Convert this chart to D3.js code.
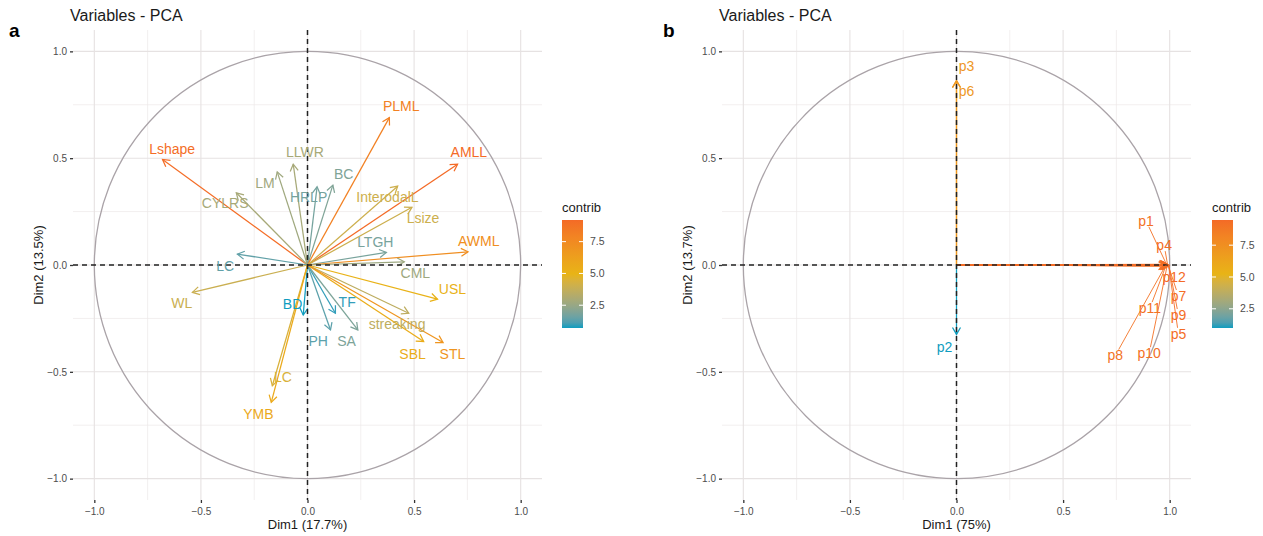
<!DOCTYPE html>
<html>
<head>
<meta charset="utf-8">
<script src="https://cdn.jsdelivr.net/npm/d3@7"></script>
<style>
  body { margin: 0; background: #fff; }
  svg { display: block; font-family: "Liberation Sans", Arial, sans-serif; }
</style>
</head>
<body>
<svg id="chart" width="1263" height="536"></svg>
<script>
// ---------- Panel a data ----------
const varsA = ["Lshape","CYLRS","LM","LLWR","HRLP","BC","LC","PLML","AMLL","InterodalL","Lsize","LTGH","AWML","CML","WL","USL","BD","TF","PH","SA","streaking","SBL","STL","LC","YMB"];
const dim1A = [-0.68,-0.334,-0.142,-0.067,0.045,0.119,-0.329,0.384,0.704,0.423,0.49,0.37,0.753,0.454,-0.54,0.61,-0.02,0.131,0.108,0.236,0.475,0.545,0.636,-0.165,-0.17];
const dim2A = [0.494,0.338,0.436,0.472,0.366,0.374,0.051,0.69,0.472,0.369,0.27,0.059,0.062,0.015,-0.128,-0.16,-0.234,-0.226,-0.304,-0.304,-0.226,-0.358,-0.363,-0.565,-0.643];
const contribA = [9.05,2.90,2.70,2.90,1.74,1.97,1.42,7.99,9.20,4.04,4.01,1.80,7.30,2.64,3.95,5.10,0.71,0.88,1.33,1.90,3.55,5.45,6.88,4.44,5.67];
const labXA = [-0.635,-0.386,-0.2,-0.012,0.005,0.17,-0.386,0.44,0.757,0.375,0.542,0.318,0.803,0.506,-0.59,0.68,-0.07,0.186,0.05,0.183,0.42,0.493,0.68,-0.115,-0.23];
const labYA = [0.542,0.29,0.383,0.527,0.318,0.425,-0.005,0.745,0.527,0.32,0.218,0.109,0.111,-0.04,-0.18,-0.113,-0.183,-0.174,-0.355,-0.355,-0.276,-0.417,-0.417,-0.523,-0.7];

// ---------- Panel b data ----------
const varsB = ["p1","p2","p3","p4","p5","p6","p7","p8","p9","p10","p11","p12"];
const dim1B = [0.985,0,0,0.99,0.995,0,0.993,0.98,0.996,0.988,0.983,0.997];
const dim2B = [0.003,-0.325,0.864,0.002,-0.003,0.862,-0.002,-0.004,-0.003,-0.004,-0.002,-0.001];
const contribB = [9.13,0.99,7.01,9.22,9.32,6.98,9.27,9.05,9.33,9.18,9.09,9.48];
const labXB = [0.889,-0.056,0.047,0.974,1.041,0.047,1.041,0.745,1.041,0.904,0.907,1.021];
const labYB = [0.207,-0.382,0.93,0.093,-0.322,0.813,-0.145,-0.424,-0.234,-0.413,-0.202,-0.057];

// ---------- axis / legend labels ----------
const axisBreaks = [-1.0,-0.5,0.0,0.5,1.0];
const minorBreaks = [-0.75,-0.25,0.25,0.75];
const legendBreaks = [2.5,5.0,7.5];
const gradientColors = ["#0f9dbf","#e8b416","#f46a26"];

const svg = d3.select("#chart");
const fmt = d3.format(".1f");

function drawPanel(cfg) {
  const g = svg.append("g");
  const x = d3.scaleLinear().domain([-1.1,1.1]).range([cfg.left, cfg.left + 469]);
  const y = d3.scaleLinear().domain([-1.1,1.1]).range([500, 30]);
  const cmin = d3.min(cfg.contrib), cmax = d3.max(cfg.contrib);
  const col = d3.scaleLinear().domain([cmin,(cmin+cmax)/2,cmax]).range(gradientColors).interpolate(d3.interpolateLab);

  // grid
  const grid = g.append("g");
  minorBreaks.forEach(v => {
    grid.append("line").attr("x1", x(v)).attr("x2", x(v)).attr("y1", 30).attr("y2", 500)
      .attr("stroke", "#ece8e8").attr("stroke-width", 0.7);
    grid.append("line").attr("y1", y(v)).attr("y2", y(v)).attr("x1", x.range()[0]).attr("x2", x.range()[1])
      .attr("stroke", "#ece8e8").attr("stroke-width", 0.7);
  });
  axisBreaks.forEach(v => {
    grid.append("line").attr("x1", x(v)).attr("x2", x(v)).attr("y1", 30).attr("y2", 500)
      .attr("stroke", "#e6e2e2").attr("stroke-width", 1.1);
    grid.append("line").attr("y1", y(v)).attr("y2", y(v)).attr("x1", x.range()[0]).attr("x2", x.range()[1])
      .attr("stroke", "#e6e2e2").attr("stroke-width", 1.1);
  });

  // axes with ticks
  const xAxis = d3.axisBottom(x).tickValues(axisBreaks).tickFormat(fmt).tickSize(3).tickPadding(5);
  const yAxis = d3.axisLeft(y).tickValues(axisBreaks).tickFormat(fmt).tickSize(3).tickPadding(3);
  const gx = g.append("g").attr("transform", `translate(0,500)`).call(xAxis);
  const gy = g.append("g").attr("transform", `translate(${x.range()[0]},0)`).call(yAxis);
  [gx, gy].forEach(a => {
    a.select(".domain").remove();
    a.selectAll(".tick line").attr("stroke", "#333").attr("stroke-width", 1.3);
    a.selectAll(".tick text").attr("fill", "#4d4d4d").style("font-size", "10px").style("font-family", "Liberation Sans, Arial, sans-serif");
  });

  // circle
  g.append("ellipse").attr("cx", x(0)).attr("cy", y(0))
    .attr("rx", x(1) - x(0)).attr("ry", y(0) - y(1))
    .attr("fill", "none").attr("stroke", "#aaa3a8").attr("stroke-width", 1.3);

  // arrows
  const ag = g.append("g");
  cfg.names.forEach((n, i) => {
    const x0 = x(0), y0 = y(0), tx = x(cfg.d1[i]), ty = y(cfg.d2[i]);
    const c = col(cfg.contrib[i]);
    const ang = Math.atan2(ty - y0, tx - x0);
    const L = 8, A = Math.PI / 6;
    ag.append("line").attr("x1", x0).attr("y1", y0).attr("x2", tx).attr("y2", ty)
      .attr("stroke", c).attr("stroke-width", 1.25);
    ag.append("path")
      .attr("d", `M${tx - L*Math.cos(ang - A)},${ty - L*Math.sin(ang - A)}L${tx},${ty}L${tx - L*Math.cos(ang + A)},${ty - L*Math.sin(ang + A)}`)
      .attr("fill", "none").attr("stroke", c).attr("stroke-width", 1.25);
  });

  // dashed axes lines
  g.append("line").attr("x1", x.range()[0]).attr("x2", x.range()[1]).attr("y1", y(0)).attr("y2", y(0))
    .attr("stroke", "#222").attr("stroke-width", 1.5).attr("stroke-dasharray", "5,4");
  g.append("line").attr("x1", x(0)).attr("x2", x(0)).attr("y1", 30).attr("y2", 500)
    .attr("stroke", "#222").attr("stroke-width", 1.5).attr("stroke-dasharray", "5,4");

  // labels (+ repel segments)
  const lg = g.append("g");
  cfg.names.forEach((n, i) => {
    const c = col(cfg.contrib[i]);
    const cx = x(cfg.lx[i]), cy = y(cfg.ly[i]);
    const t = lg.append("text").attr("x", cx).attr("y", cy).attr("dy", "0.35em")
      .attr("text-anchor", "middle").attr("fill", c).style("font-size", "14px").text(n);
    const w = t.node().getComputedTextLength();
    const tx = x(cfg.d1[i]), ty = y(cfg.d2[i]);
    const dx = tx - cx, dy = ty - cy;
    const hw = w / 2 + 1, hh = 6;
    const s = Math.min(dx === 0 ? Infinity : hw / Math.abs(dx), dy === 0 ? Infinity : hh / Math.abs(dy));
    const dist = Math.hypot(dx, dy);
    if (s < 1 && (1 - s) * dist > 12) {
      lg.append("line").attr("x1", cx + s*dx).attr("y1", cy + s*dy).attr("x2", tx).attr("y2", ty)
        .attr("stroke", c).attr("stroke-width", 0.9);
    }
  });

  // titles
  g.append("text").attr("x", cfg.left - 3).attr("y", 21).attr("fill", "#1a1a1a")
    .style("font-size", "16px").text("Variables - PCA");
  g.append("text").attr("x", cfg.tagX).attr("y", 37).attr("fill", "#000")
    .style("font-size", "19px").style("font-weight", "bold").text(cfg.tag);
  g.append("text").attr("x", x(0)).attr("y", 529).attr("text-anchor", "middle").attr("fill", "#1a1a1a")
    .style("font-size", "13px").text(cfg.xlab);
  g.append("text").attr("transform", `translate(${cfg.left - 30},${y(0)}) rotate(-90)`)
    .attr("text-anchor", "middle").attr("fill", "#1a1a1a").style("font-size", "13px").text(cfg.ylab);

  // legend
  const lx = cfg.legX, top = 220, bot = 328, bw = 21;
  const ls = d3.scaleLinear().domain([cmin, cmax]).range([bot, top]);
  const gid = "grad" + cfg.tag;
  const grad = svg.append("defs").append("linearGradient").attr("id", gid)
    .attr("x1", 0).attr("y1", 1).attr("x2", 0).attr("y2", 0);
  d3.range(0, 1.0001, 0.05).forEach(f => {
    grad.append("stop").attr("offset", f).attr("stop-color", col(cmin + f * (cmax - cmin)));
  });
  g.append("text").attr("x", lx).attr("y", 212).attr("fill", "#1a1a1a").style("font-size", "13px").text("contrib");
  g.append("rect").attr("x", lx).attr("y", top).attr("width", bw).attr("height", bot - top).attr("fill", `url(#${gid})`);
  legendBreaks.forEach(v => {
    const yy = ls(v);
    g.append("line").attr("x1", lx).attr("x2", lx + 4).attr("y1", yy).attr("y2", yy).attr("stroke", "#fff").attr("stroke-width", 1);
    g.append("line").attr("x1", lx + bw - 4).attr("x2", lx + bw).attr("y1", yy).attr("y2", yy).attr("stroke", "#fff").attr("stroke-width", 1);
    g.append("text").attr("x", lx + bw + 7).attr("y", yy).attr("dy", "0.35em").attr("fill", "#4d4d4d")
      .style("font-size", "10.5px").text(fmt(v));
  });
}

drawPanel({ left: 73, names: varsA, d1: dim1A, d2: dim2A, contrib: contribA, lx: labXA, ly: labYA,
  xlab: "Dim1 (17.7%)", ylab: "Dim2 (13.5%)", tag: "a", tagX: 9, legX: 562 });
drawPanel({ left: 722, names: varsB, d1: dim1B, d2: dim2B, contrib: contribB, lx: labXB, ly: labYB,
  xlab: "Dim1 (75%)", ylab: "Dim2 (13.7%)", tag: "b", tagX: 663, legX: 1212 });
</script>
</body>
</html>
